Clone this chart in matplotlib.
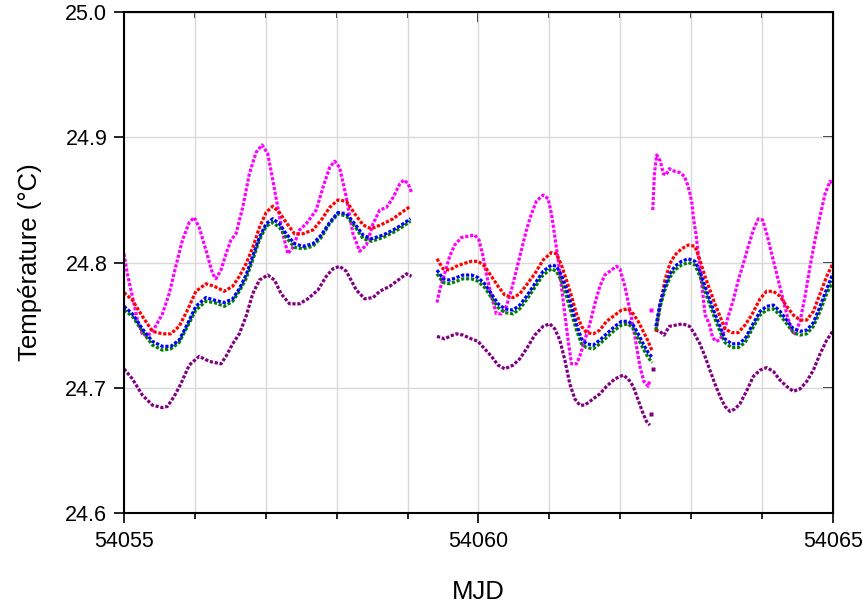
import numpy as np
import matplotlib
matplotlib.use('Agg')
import matplotlib.pyplot as plt
from matplotlib.ticker import MultipleLocator

plt.rcParams['font.family'] = ['Liberation Sans', 'DejaVu Sans']

nan = np.nan

# shared time base for the red / blue / green probes (MJD)
t_rbg = [54055.000, 54055.118, 54055.259, 54055.401, 54055.542, 54055.660, 54055.778, 54055.896,
         54056.014, 54056.156, 54056.274, 54056.415, 54056.533, 54056.627, 54056.722, 54056.816,
         54056.910, 54057.005, 54057.099, 54057.193, 54057.288, 54057.406, 54057.524, 54057.665,
         54057.783, 54057.901, 54058.019, 54058.137, 54058.255, 54058.373, 54058.491, 54058.656,
         54058.797, 54058.915, 54059.042,
         nan,
         54059.416, 54059.501, 54059.595, 54059.689, 54059.783, 54059.901, 54059.995, 54060.089,
         54060.184, 54060.278, 54060.372, 54060.490, 54060.584, 54060.678, 54060.796, 54060.913,
         54061.031, 54061.102, 54061.172, 54061.243, 54061.314, 54061.384, 54061.455, 54061.525,
         54061.620, 54061.714, 54061.808, 54061.926, 54062.020, 54062.114, 54062.185, 54062.255,
         54062.326, 54062.396, 54062.453,
         nan,
         54062.505, 54062.561, 54062.632, 54062.702, 54062.773, 54062.867, 54062.962, 54063.056,
         54063.126, 54063.197, 54063.267, 54063.338, 54063.409, 54063.479, 54063.573, 54063.668,
         54063.762, 54063.856, 54063.974, 54064.068, 54064.162, 54064.256, 54064.350, 54064.444,
         54064.539, 54064.633, 54064.727, 54064.821, 54064.915, 54065.000]

red = [24.776, 24.770, 24.757, 24.745, 24.743, 24.743, 24.749, 24.762, 24.777, 24.783, 24.781, 24.777,
       24.781, 24.789, 24.799, 24.812, 24.828, 24.840, 24.845, 24.840, 24.832, 24.823, 24.823, 24.826,
       24.834, 24.844, 24.850, 24.849, 24.839, 24.830, 24.827, 24.831, 24.835, 24.840, 24.845,
       nan,
       24.803, 24.795, 24.794, 24.797, 24.799, 24.801, 24.801, 24.797, 24.789, 24.781, 24.774, 24.772,
       24.775, 24.782, 24.791, 24.802, 24.808, 24.807, 24.798, 24.786, 24.773, 24.759, 24.749, 24.744,
       24.743, 24.746, 24.753, 24.758, 24.762, 24.763, 24.759, 24.753, 24.745, 24.737, 24.729,
       nan,
       24.745, 24.764, 24.786, 24.799, 24.806, 24.811, 24.814, 24.813, 24.802, 24.789, 24.778, 24.767,
       24.757, 24.747, 24.744, 24.744, 24.750, 24.758, 24.771, 24.777, 24.777, 24.773, 24.765, 24.758,
       24.754, 24.754, 24.761, 24.775, 24.789, 24.799]

blue = [24.765, 24.759, 24.747, 24.737, 24.733, 24.733, 24.738, 24.751, 24.765, 24.772, 24.770, 24.768,
        24.771, 24.779, 24.790, 24.805, 24.820, 24.831, 24.835, 24.831, 24.823, 24.815, 24.813, 24.815,
        24.822, 24.832, 24.840, 24.839, 24.831, 24.822, 24.819, 24.822, 24.826, 24.830, 24.835,
        nan,
        24.794, 24.787, 24.786, 24.788, 24.790, 24.790, 24.788, 24.783, 24.775, 24.767, 24.763, 24.762,
        24.766, 24.773, 24.783, 24.793, 24.798, 24.797, 24.790, 24.779, 24.765, 24.751, 24.739, 24.735,
        24.734, 24.738, 24.743, 24.749, 24.753, 24.753, 24.750, 24.743, 24.735, 24.728, 24.724,
        nan,
        24.749, 24.767, 24.781, 24.791, 24.797, 24.801, 24.803, 24.801, 24.793, 24.781, 24.770, 24.759,
        24.749, 24.739, 24.735, 24.735, 24.739, 24.749, 24.761, 24.765, 24.766, 24.761, 24.754, 24.747,
        24.745, 24.746, 24.752, 24.765, 24.779, 24.791]

green = [24.762, 24.757, 24.745, 24.734, 24.730, 24.731, 24.736, 24.749, 24.762, 24.769, 24.768, 24.765,
         24.769, 24.777, 24.787, 24.802, 24.818, 24.829, 24.832, 24.828, 24.820, 24.812, 24.811, 24.813,
         24.820, 24.831, 24.839, 24.837, 24.829, 24.819, 24.817, 24.820, 24.824, 24.828, 24.833,
         nan,
         24.791, 24.784, 24.783, 24.785, 24.787, 24.787, 24.785, 24.780, 24.772, 24.764, 24.760, 24.759,
         24.763, 24.770, 24.780, 24.790, 24.795, 24.793, 24.785, 24.773, 24.759, 24.746, 24.735, 24.732,
         24.731, 24.735, 24.740, 24.746, 24.750, 24.751, 24.747, 24.739, 24.731, 24.724, 24.720,
         nan,
         24.746, 24.764, 24.778, 24.788, 24.794, 24.798, 24.800, 24.798, 24.789, 24.777, 24.766, 24.755,
         24.745, 24.736, 24.732, 24.732, 24.736, 24.746, 24.758, 24.762, 24.763, 24.758, 24.751, 24.744,
         24.742, 24.743, 24.749, 24.761, 24.775, 24.785]

t_mag = [54055.000, 54055.047, 54055.118, 54055.189, 54055.259, 54055.330, 54055.425, 54055.542,
         54055.637, 54055.731, 54055.825, 54055.920, 54055.991, 54056.061, 54056.156, 54056.250,
         54056.297, 54056.368, 54056.439, 54056.509, 54056.580, 54056.675, 54056.769, 54056.863,
         54056.948, 54057.028, 54057.099, 54057.170, 54057.241, 54057.311, 54057.382, 54057.476,
         54057.571, 54057.712, 54057.807, 54057.901, 54057.972, 54058.042, 54058.137, 54058.231,
         54058.325, 54058.420, 54058.514, 54058.608, 54058.703, 54058.797, 54058.892, 54058.948,
         54059.009, 54059.057,
         nan,
         54059.416, 54059.454, 54059.524, 54059.595, 54059.666, 54059.760, 54059.854, 54059.948,
         54060.009, 54060.066, 54060.113, 54060.184, 54060.254, 54060.325, 54060.395, 54060.466,
         54060.537, 54060.607, 54060.678, 54060.749, 54060.819, 54060.913, 54060.984, 54061.031,
         54061.078, 54061.125, 54061.172, 54061.219, 54061.266, 54061.314, 54061.384, 54061.431,
         54061.502, 54061.573, 54061.643, 54061.714, 54061.784, 54061.879, 54061.949, 54061.996,
         54062.067, 54062.137, 54062.208, 54062.279, 54062.335, 54062.396, 54062.420,
         nan,
         54062.460, 54062.484, 54062.516, 54062.568, 54062.610, 54062.648, 54062.695, 54062.765,
         54062.836, 54062.906, 54062.953, 54062.986, 54063.014, 54063.038, 54063.070, 54063.117,
         54063.160, 54063.200, 54063.258, 54063.305, 54063.352, 54063.400, 54063.456, 54063.526,
         54063.597, 54063.668, 54063.738, 54063.809, 54063.879, 54063.950, 54064.011, 54064.068,
         54064.138, 54064.209, 54064.280, 54064.350, 54064.421, 54064.468, 54064.539, 54064.609,
         54064.680, 54064.750, 54064.821, 54064.892, 54064.962, 54065.000]

magenta = [24.807, 24.791, 24.773, 24.754, 24.743, 24.741, 24.747, 24.759, 24.775, 24.797, 24.818, 24.832,
           24.836, 24.828, 24.810, 24.791, 24.787, 24.794, 24.807, 24.818, 24.823, 24.844, 24.871, 24.888,
           24.894, 24.887, 24.866, 24.844, 24.823, 24.807, 24.812, 24.826, 24.831, 24.842, 24.860, 24.876,
           24.881, 24.876, 24.852, 24.823, 24.809, 24.814, 24.831, 24.842, 24.844, 24.852, 24.863, 24.866,
           24.863, 24.856,
           nan,
           24.768, 24.778, 24.791, 24.805, 24.814, 24.820, 24.821, 24.822, 24.818, 24.805, 24.791, 24.773,
           24.759, 24.759, 24.765, 24.778, 24.794, 24.810, 24.826, 24.839, 24.849, 24.854, 24.851, 24.839,
           24.821, 24.802, 24.781, 24.759, 24.738, 24.719, 24.719, 24.725, 24.738, 24.751, 24.767, 24.781,
           24.790, 24.794, 24.797, 24.795, 24.781, 24.762, 24.741, 24.717, 24.705, 24.701, 24.706,
           nan,
           24.842, 24.871, 24.886, 24.881, 24.871, 24.870, 24.875, 24.873, 24.872, 24.869, 24.862, 24.855,
           24.847, 24.834, 24.823, 24.800, 24.778, 24.758, 24.751, 24.740, 24.737, 24.738, 24.743, 24.757,
           24.770, 24.786, 24.799, 24.813, 24.826, 24.835, 24.834, 24.823, 24.807, 24.791, 24.775, 24.759,
           24.746, 24.743, 24.753, 24.773, 24.797, 24.818, 24.837, 24.855, 24.865, 24.863]

t_pur = [54055.000, 54055.118, 54055.259, 54055.401, 54055.542, 54055.613, 54055.708, 54055.802,
         54055.920, 54056.061, 54056.203, 54056.368, 54056.439, 54056.533, 54056.627, 54056.722,
         54056.816, 54056.910, 54057.028, 54057.123, 54057.217, 54057.335, 54057.476, 54057.594,
         54057.736, 54057.854, 54057.948, 54058.042, 54058.137, 54058.278, 54058.396, 54058.514,
         54058.608, 54058.750, 54058.892, 54058.986, 54059.057,
         nan,
         54059.416, 54059.524, 54059.595, 54059.689, 54059.783, 54059.901, 54059.995, 54060.089,
         54060.184, 54060.278, 54060.372, 54060.490, 54060.584, 54060.678, 54060.796, 54060.913,
         54061.008, 54061.078, 54061.149, 54061.220, 54061.290, 54061.361, 54061.431, 54061.502,
         54061.596, 54061.714, 54061.808, 54061.926, 54062.043, 54062.114, 54062.185, 54062.255,
         54062.326, 54062.373, 54062.420,
         nan,
         54062.498, 54062.560, 54062.620, 54062.695, 54062.790, 54062.883, 54062.980, 54063.050,
         54063.126, 54063.197, 54063.267, 54063.338, 54063.409, 54063.479, 54063.550, 54063.620,
         54063.690, 54063.790, 54063.880, 54063.974, 54064.068, 54064.162, 54064.256, 54064.350,
         54064.444, 54064.539, 54064.633, 54064.727, 54064.821, 54064.915, 54065.000]

purple = [24.715, 24.707, 24.694, 24.686, 24.684, 24.685, 24.693, 24.703, 24.718, 24.725, 24.721, 24.719,
          24.725, 24.735, 24.743, 24.757, 24.775, 24.786, 24.790, 24.786, 24.775, 24.767, 24.767, 24.771,
          24.778, 24.789, 24.795, 24.797, 24.793, 24.778, 24.771, 24.772, 24.777, 24.781, 24.787, 24.791,
          24.789,
          nan,
          24.741, 24.739, 24.741, 24.743, 24.742, 24.739, 24.737, 24.731, 24.725, 24.718, 24.715, 24.718,
          24.723, 24.731, 24.742, 24.749, 24.751, 24.747, 24.738, 24.722, 24.703, 24.691, 24.686, 24.686,
          24.690, 24.695, 24.701, 24.707, 24.710, 24.707, 24.701, 24.690, 24.679, 24.673, 24.670,
          nan,
          24.746, 24.745, 24.742, 24.749, 24.750, 24.751, 24.749, 24.743, 24.735, 24.725, 24.714, 24.703,
          24.693, 24.685, 24.681, 24.683, 24.687, 24.698, 24.709, 24.714, 24.716, 24.713, 24.706, 24.701,
          24.697, 24.699, 24.705, 24.714, 24.727, 24.738, 24.745]

# isolated readings around the jump at MJD 54062.45
stray_mag_t = [54062.437]
stray_mag = [24.762]
stray_pur_t = [54062.437, 54062.465]
stray_pur = [24.679, 24.715]

fig = plt.figure(figsize=(8.66, 6.07), dpi=100)
ax = fig.add_axes([0.1432, 0.1553, 0.8184, 0.8244])

dots = dict(lw=2.3, linestyle=(0, (1, 0.55)), dash_capstyle='butt', solid_capstyle='butt')
ax.plot(t_mag, magenta, color='#ff00ff', **dots)
ax.plot(t_pur, purple, color='#800080', **dots)
ax.plot(t_rbg, red, color='#ff0000', **dots)
ax.plot(t_rbg, green, color='#008000', **dots)
ax.plot(t_rbg, blue, color='#0000ff', **dots)
ax.plot(stray_mag_t, stray_mag, 's', ms=3, mec='none', color='#ff00ff')
ax.plot(stray_pur_t, stray_pur, 's', ms=3, mec='none', color='#800080')

ax.set_xlim(54055, 54065)
ax.set_ylim(24.6, 25.0)
ax.xaxis.set_major_locator(MultipleLocator(5))
ax.xaxis.set_minor_locator(MultipleLocator(1))
ax.yaxis.set_major_locator(MultipleLocator(0.1))
ax.xaxis.set_major_formatter(plt.FuncFormatter(lambda v, p: '%d' % v))
ax.yaxis.set_major_formatter(plt.FuncFormatter(lambda v, p: '%.1f' % v))

ax.grid(which='both', axis='x', color='#d9d9d9', lw=1.0)
ax.grid(which='major', axis='y', color='#d9d9d9', lw=1.0)
ax.set_axisbelow(True)

for s in ax.spines.values():
    s.set_linewidth(1.5)

ax.tick_params(which='major', direction='out', length=7, width=1.2, labelsize=15.5, pad=5)
ax.tick_params(which='minor', direction='out', length=4, width=1.2)
ax.tick_params(axis='x', which='major', pad=6)

# mirrored inside ticks on top and right
top = ax.secondary_xaxis('top')
top.xaxis.set_major_locator(MultipleLocator(5))
top.xaxis.set_minor_locator(MultipleLocator(1))
top.tick_params(which='major', direction='in', length=7, width=1.2, labeltop=False)
top.tick_params(which='minor', direction='in', length=4, width=1.2)
right = ax.secondary_yaxis('right')
right.yaxis.set_major_locator(MultipleLocator(0.1))
right.tick_params(which='major', direction='in', length=7, width=1.2, labelright=False)

ax.set_xlabel('MJD', fontsize=18.5, labelpad=20)
ax.set_ylabel('Température (°C)', fontsize=18.5, labelpad=17)

fig.savefig('out.png', dpi=100)
